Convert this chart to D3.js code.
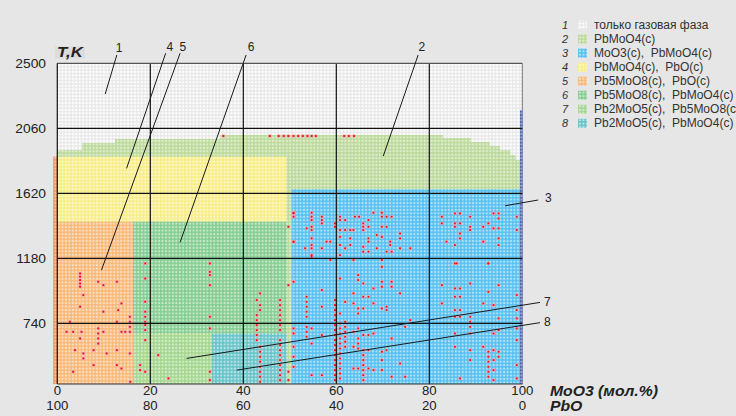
<!DOCTYPE html>
<html><head><meta charset="utf-8">
<script src="https://cdn.jsdelivr.net/npm/d3@7"></script>
<style>
body{margin:0;background:#e6e6e6;}
svg{display:block;font-family:"Liberation Sans",Arial,sans-serif;}
</style></head>
<body><svg id="chart" width="736" height="416"></svg>
<script>
// Axis ticks
const xTicks = [0, 20, 40, 60, 80, 100];          // MoO3, mol.%
const pboTicks = [100, 80, 60, 40, 20, 0];        // PbO, mol.%
const tTicks = [2500, 2060, 1620, 1180, 740];     // T, K
const tMin = 330, tMax = 2500;

// Phase legend
const phaseNum = [1, 2, 3, 4, 5, 6, 7, 8];
const phaseNames = ["только газовая фаза", "PbMoO4(c)", "MoO3(c),  PbMoO4(c)", "PbMoO4(c),  PbO(c)",
  "Pb5MoO8(c),  PbO(c)", "Pb5MoO8(c),  PbMoO4(c)", "Pb2MoO5(c),  Pb5MoO8(c)", "Pb2MoO5(c),  PbMoO4(c)"];
const phaseColors = ["#e9e9e9", "#bcd99a", "#55bff0", "#f9ed88", "#f9b878", "#84cc90", "#a3d68e", "#66c3c8"];

// Upper boundary of the condensed region (step edges in MoO3 %, temperatures per step)
const liqX = [0, 5.3, 12.4, 35, 83, 89, 93, 95.2, 97.4, 98.6, 99.5];
const liqT = [1913, 1960, 1988, 2015, 1994, 1967, 1940, 1913, 1880, 1845];

// Two-phase fields: phase number, composition range (MoO3 %), temperature range (K)
const fieldPhase = [4, 5, 6, 7, 8, 3];
const fieldX0 = [0, 0, 16.3, 16.3, 33.2, 50.4];
const fieldX1 = [49.3, 16.3, 49.3, 33.2, 49.3, 99.5];
const fieldT0 = [1428, tMin, 672, tMin, tMin, tMin];
const fieldT1 = [1868, 1428, 1428, 672, 672, 1648];

// Pure-component columns: PbO (x = 0) and MoO3 (x = 100)
const edgeX0 = [-0.9, 99.5];
const edgeX1 = [0, 100.1];
const edgeT1 = [1868, 2183];
const edgeColors = ["#f0956a", "#4f62ad"];

// Non-converged points of the calculation grid [MoO3 %, T]
const failPts = [
 [35.7,2008],[45.7,2008],[47.6,2008],[48.7,2008],[49.7,2008],[50.8,2008],[51.8,2008],[52.8,2008],[53.8,2008],[54.7,2008],[55.6,2008],[61.7,2008],[62.7,2008],[63.8,2008],
 [50.8,1489],[50.8,1462],[54.7,1489],[54.7,1462],[54.7,1439],[56.9,1462],[56.9,1439],[56.9,1417],[49.7,1394],
 [53.6,1383],[54.7,1394],[54.7,1372],[59.7,1417],[59.7,1394],[60.8,1462],[60.8,1439],[61.9,1439],[64.0,1462],[64.9,1462],
 [66.9,1439],[68.0,1489],[69.8,1489],[69.8,1462],[70.8,1462],[71.9,1462],[65.8,1417],[65.8,1394],[65.8,1372],[60.8,1372],
 [61.9,1372],[63.0,1372],[63.7,1372],[66.9,1394],[69.8,1394],[70.8,1394],[68.7,1338],[69.8,1326],[73.7,1349],[73.7,1315],
 [54.7,1315],[50.8,1293],[57.9,1293],[58.7,1293],[60.8,1326],[63.0,1315],[66.9,1315],[66.9,1293],[71.6,1293],[71.6,1270],
 [53.3,1248],[54.7,1270],[54.7,1248],[56.9,1248],[60.8,1270],[61.9,1248],[63.0,1270],[65.8,1259],[65.8,1225],[66.9,1225],
 [68.7,1248],[70.8,1225],[71.9,1225],[73.7,1248],[75.9,1248],[54.7,1191],[58.7,1169],[60.8,1202],[63.7,1169],[69.8,1169],
 [69.8,1123],[82.7,1462],[82.7,1417],[85.5,1484],[86.6,1484],[85.5,1417],[85.5,1394],[86.6,1417],[88.8,1462],[88.8,1394],
 [88.8,1372],[91.6,1394],[92.7,1417],[93.8,1484],[94.9,1484],[94.9,1450],[93.8,1383],[94.9,1383],[98.8,1462],[98.8,1372],
 [86.6,1349],[86.6,1315],[83.7,1293],[85.5,1270],[91.6,1293],[94.9,1315],[94.9,1270],[85.9,1146],[92.7,1146],
 [50.8,1022],[50.8,706],[50.8,672],[50.8,582],[50.8,514],[50.8,446],
 [53.6,920],[53.6,886],[53.6,853],[53.6,819],[53.6,785],[53.6,717],[53.6,683],[53.6,650],
 [54.7,1202],[54.7,706],[54.7,604],[54.7,390],[56.9,965],[56.9,853],[56.9,661],[56.9,390],
 [59.7,898],[59.7,864],[59.7,830],[59.7,796],[59.7,762],[59.7,728],[59.7,695],[59.7,661],[59.7,627],[59.7,593],
 [59.7,559],[59.7,525],[59.7,492],[59.7,458],[59.7,424],[59.7,390],[59.7,356],
 [60.8,1044],[60.8,807],[60.8,740],[60.8,706],[60.8,672],[60.8,638],[60.8,604],[60.8,570],[60.8,537],[60.8,503],
 [60.8,469],[60.8,435],[60.8,401],[60.8,368],
 [61.9,886],[61.9,751],[61.9,717],[61.9,683],[61.9,650],[61.9,616],[61.9,582],
 [63.7,943],[63.7,875],[63.7,683],[63.7,582],[63.7,435],
 [64.7,1067],[64.7,1033],[64.7,841],[64.7,807],[64.7,706],[64.7,638],[64.7,604],[64.7,570],[64.7,435],
 [65.8,1010],[65.8,920],[65.8,841],[65.8,661],[65.8,559],[65.8,525],[65.8,492],[65.8,458],[65.8,424],[65.8,390],[65.8,356],
 [66.9,920],[66.9,661],[66.9,559],[66.9,435],[68.0,977],[68.0,875],[68.0,672],[68.0,424],
 [69.8,1022],[69.8,988],[69.8,841],[69.8,548],[69.8,492],[69.8,424],[70.8,853],[70.8,830],[70.8,559],
 [71.9,1022],[71.9,988],[71.9,638],[71.9,379],[73.7,943],[73.7,469],[74.8,717],[74.8,379],[75.9,762],
 [82.7,999],[82.7,875],[85.5,1146],[85.5,977],[85.5,920],[85.5,830],[85.5,785],[85.5,672],[85.5,582],
 [86.6,977],[86.6,920],[86.6,830],[86.6,785],[86.6,368],
 [88.8,1010],[88.8,785],[88.8,751],[88.8,717],[88.8,672],[88.8,559],[88.8,492],[91.6,875],[91.6,582],
 [92.7,1146],[92.7,954],[92.7,548],[92.7,514],[92.7,481],[92.7,446],[92.7,413],[92.7,379],
 [93.8,864],[93.8,672],[93.8,559],[93.8,492],[93.8,424],[93.8,356],
 [94.9,999],[94.9,774],[94.9,695],[94.9,548],[94.9,514],
 [98.8,932],[98.8,830],[98.8,774],[98.8,706],[98.8,627],[98.8,458],[98.8,368],
 [4.9,1078],[4.9,1056],[4.9,1033],[4.9,1010],[4.9,988],[4.9,638],[4.9,853],
 [8.8,1022],[8.8,706],[8.8,672],[8.8,638],[8.8,604],[9.9,999],[9.9,819],[9.9,683],
 [12.8,1022],[12.8,751],[12.8,559],[12.8,458],[5.6,932],[5.6,537],[5.6,503],[13.8,875],[13.8,683],[13.8,435],
 [13.1,830],[15.6,785],[15.6,751],[15.6,717],[15.6,683],[15.6,537],[2.7,751],[2.0,683],[3.4,683],[3.4,413],
 [5.2,683],[3.8,559],[7.8,559],[7.8,458],[10.6,537],[14.6,683],[15.7,345],
 [18.9,1146],[18.9,1044],[18.9,887],[18.9,819],[18.9,785],[18.9,751],[18.9,729],[18.9,695],[18.9,627],[18.9,413],
 [32.8,1146],[32.8,1089],[32.8,1067],[32.8,999],[32.8,785],[32.8,706],[32.8,413],[32.8,356],
 [43.6,943],[43.6,864],[43.6,830],[43.6,582],[43.6,548],[43.6,514],[43.6,481],[43.6,446],[43.6,413],[43.6,379],[43.6,345],
 [42.9,898],[42.9,796],[42.9,762],[42.9,728],[42.9,695],[42.9,661],[42.9,627],
 [47.9,898],[47.9,864],[47.9,830],[47.9,796],[47.9,762],[47.9,728],[47.9,695],[47.9,627],[47.9,593],[47.9,559],
 [47.9,525],[47.9,492],[47.9,458],[47.9,424],[47.9,390],[47.9,356],
 [49.7,999],[49.7,413],[49.7,356],[21.7,525],[17.8,458],[17.8,424],[23.9,368],
 [50.8,1485],[50.8,1292]
];

// Field labels with leader lines: label, label anchor [x,T], line start, line end
const calloutText = ["1", "4", "5", "6", "2", "3", "7", "8"];
const calloutAt = [[13.3,2604],[24.2,2610],[27.0,2610],[41.7,2610],[78.4,2610],[105.6,1588],[105.4,884],[105.4,749]];
const calloutFrom = [[12.8,2556],[23.3,2568],[26.4,2568],[40.6,2556],[77.6,2556],[103.4,1575],[103.8,882],[103.8,745]];
const calloutTo = [[10.3,2292],[14.9,1789],[9.5,1101],[26.4,1288],[70.1,1872],[96.3,1536],[27.8,503],[38.6,424]];

const svg = d3.select("#chart");
const x = d3.scaleLinear().domain([0, 100]).range([57.3, 522.3]);
const y = d3.scaleLinear().domain([tMin, tMax]).range([384, 63.3]);

svg.append("rect").attr("width", 736).attr("height", 416).attr("fill", "#e6e6e6");

// Dotted cell textures
const defs = svg.append("defs");
function texture(id, color, dotOpacity) {
  const p = defs.append("pattern").attr("id", id).attr("patternUnits", "userSpaceOnUse")
    .attr("x", 57.3).attr("y", 63.3).attr("width", 3.45).attr("height", 3.45);
  p.append("rect").attr("width", 3.45).attr("height", 3.45).attr("fill", color);
  p.append("rect").attr("x", 0.7).attr("y", 0.7).attr("width", 2).attr("height", 2)
    .attr("fill", "#ffffff").attr("opacity", dotOpacity);
}
phaseColors.forEach((c, i) => texture("ph" + phaseNum[i], c, i === 0 ? 1 : 0.55));
edgeColors.forEach((c, i) => texture("edge" + i, c, 0.45));

// Gas-only region (whole plot)
svg.append("rect").attr("x", x(0)).attr("y", y(tMax))
  .attr("width", x(100) - x(0)).attr("height", y(tMin) - y(tMax)).attr("fill", "url(#ph1)");

// PbMoO4 region below the stepped boundary
const steps = [];
liqT.forEach((t, i) => { steps.push([liqX[i], t]); steps.push([liqX[i + 1], t]); });
const area = d3.area().x(d => x(d[0])).y0(y(tMin)).y1(d => y(d[1]));
svg.append("path").attr("d", area(steps)).attr("fill", "url(#ph2)");

// Two-phase fields
svg.selectAll("rect.field").data(fieldPhase).join("rect").attr("class", "field")
  .attr("x", (d, i) => x(fieldX0[i])).attr("width", (d, i) => x(fieldX1[i]) - x(fieldX0[i]))
  .attr("y", (d, i) => y(fieldT1[i])).attr("height", (d, i) => y(fieldT0[i]) - y(fieldT1[i]))
  .attr("fill", d => "url(#ph" + d + ")");

// Pure component columns
svg.selectAll("rect.edge").data(edgeT1).join("rect").attr("class", "edge")
  .attr("x", (d, i) => x(edgeX0[i])).attr("width", (d, i) => x(edgeX1[i]) - x(edgeX0[i]))
  .attr("y", d => y(d)).attr("height", d => y(tMin) - y(d))
  .attr("fill", (d, i) => "url(#edge" + i + ")");

// Non-converged points
const fp = svg.append("g");
fp.selectAll("rect.halo").data(failPts).join("rect").attr("class", "halo")
  .attr("x", d => x(d[0]) - 1.6).attr("y", d => y(d[1]) - 1.6).attr("width", 3.2).attr("height", 3.2)
  .attr("fill", "#f3a7b0");
fp.selectAll("rect.core").data(failPts).join("rect").attr("class", "core")
  .attr("x", d => x(d[0]) - 0.9).attr("y", d => y(d[1]) - 0.9).attr("width", 1.8).attr("height", 1.8)
  .attr("fill", "#e8101c");

// Grid lines
const grid = svg.append("g").attr("stroke", "#111").attr("stroke-width", 1.2);
grid.selectAll("line.h").data(tTicks.slice(1)).join("line").attr("class", "h")
  .attr("x1", x(0)).attr("x2", x(100)).attr("y1", d => y(d)).attr("y2", d => y(d));
grid.selectAll("line.v").data(xTicks.slice(1, -1)).join("line").attr("class", "v")
  .attr("x1", d => x(d)).attr("x2", d => x(d)).attr("y1", y(tMax)).attr("y2", y(tMin));

// Frame
svg.append("line").attr("x1", x(0)).attr("x2", x(100)).attr("y1", y(tMax)).attr("y2", y(tMax)).attr("stroke", "#555").attr("stroke-width", 1.2);
svg.append("line").attr("x1", x(100)).attr("x2", x(100)).attr("y1", y(tMax)).attr("y2", y(edgeT1[1])).attr("stroke", "#777");
svg.append("line").attr("x1", x(0)).attr("x2", x(0)).attr("y1", y(tMax)).attr("y2", y(tMin)).attr("stroke", "#111").attr("stroke-width", 1.2);
svg.append("line").attr("x1", x(0)).attr("x2", x(100)).attr("y1", y(tMin)).attr("y2", y(tMin)).attr("stroke", "#333");

// Y tick labels
svg.selectAll("text.yt").data(tTicks).join("text").attr("class", "yt")
  .attr("transform", d => `translate(46,${y(d) + 4.3}) scale(1.15,1)`)
  .attr("text-anchor", "end").attr("font-size", 12).attr("fill", "#222").text(d => d);

// X tick labels (MoO3 and PbO rows)
svg.selectAll("text.xt").data(xTicks).join("text").attr("class", "xt")
  .attr("transform", d => `translate(${x(d)},395) scale(1.1,1)`)
  .attr("text-anchor", "middle").attr("font-size", 12).attr("fill", "#222").text(d => d);
svg.selectAll("text.pt").data(pboTicks).join("text").attr("class", "pt")
  .attr("transform", (d, i) => `translate(${x(xTicks[i])},410) scale(1.1,1)`)
  .attr("text-anchor", "middle").attr("font-size", 12).attr("fill", "#222").text(d => d);

// Axis titles
svg.append("rect").attr("x", 55).attr("y", 46.5).attr("width", 30).attr("height", 12).attr("fill", "#dcdcdc");
svg.append("text").attr("transform", "translate(57,57) scale(1.2,1)")
  .attr("font-size", 14).attr("font-weight", "bold").attr("font-style", "italic").attr("fill", "#222").text("T,K");
svg.append("text").attr("transform", "translate(550,396) scale(1.05,1)")
  .attr("font-size", 15).attr("font-weight", "bold").attr("font-style", "italic").attr("fill", "#222").text("MoO3 (мол.%)");
svg.append("text").attr("transform", "translate(550,411) scale(1.05,1)")
  .attr("font-size", 15).attr("font-weight", "bold").attr("font-style", "italic").attr("fill", "#222").text("PbO");

// Callouts
const cg = svg.append("g");
cg.selectAll("line").data(calloutText).join("line")
  .attr("x1", (d, i) => x(calloutFrom[i][0])).attr("y1", (d, i) => y(calloutFrom[i][1]))
  .attr("x2", (d, i) => x(calloutTo[i][0])).attr("y2", (d, i) => y(calloutTo[i][1]))
  .attr("stroke", "#1a1a1a").attr("stroke-width", 1);
cg.selectAll("text").data(calloutText).join("text")
  .attr("x", (d, i) => x(calloutAt[i][0])).attr("y", (d, i) => y(calloutAt[i][1]) + 4)
  .attr("text-anchor", "middle").attr("font-size", 12).attr("fill", "#222").text(d => d);

// Legend
const lg = svg.append("g");
const rowY = d3.scalePoint().domain(phaseNum).range([25, 123.3]);
lg.selectAll("text.num").data(phaseNum).join("text").attr("class", "num")
  .attr("x", 565).attr("y", d => rowY(d) + 4).attr("text-anchor", "middle")
  .attr("font-size", 11).attr("font-style", "italic").attr("fill", "#333").text(d => d);
lg.selectAll("rect").data(phaseNum).join("rect")
  .attr("x", 578).attr("y", d => rowY(d) - 4.5).attr("width", 9).attr("height", 9)
  .attr("fill", d => "url(#ph" + d + ")");
lg.selectAll("text.name").data(phaseNames).join("text").attr("class", "name")
  .attr("x", 594).attr("y", (d, i) => rowY(phaseNum[i]) + 4)
  .attr("font-size", 12).attr("fill", "#333").style("white-space", "pre").text(d => d);
</script>
</body></html>
